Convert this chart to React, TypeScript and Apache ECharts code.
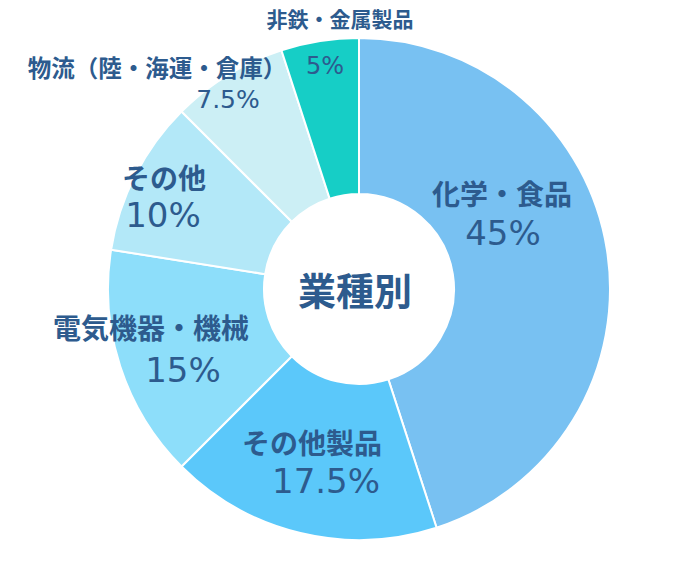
import React, { useEffect, useRef } from "react";
import * as echarts from "echarts";

const categories = [
  "化学・食品",
  "その他製品",
  "電気機器・機械",
  "その他",
  "物流（陸・海運・倉庫）",
  "非鉄・金属製品",
];
const shares = [45, 17.5, 15, 10, 7.5, 5];
const sliceColors = ["#78C1F2", "#5BC8FA", "#8DDEFA", "#B3E8F8", "#CCEFF5", "#16CEC6"];
const centerTitle = "業種別";

// label layout: [x, y, nameSize, pctSize, gap, shift]
const labelLayouts = [
  [502, 213, 28, 34, 40, 1],
  [312, 461, 28, 34, 39, 14],
  [151, 348, 28, 34, 43, 32],
  [164, 196, 28, 34, 38, -1],
  [157, 83, 23.5, 25, 32, 71],
  [340, 42, 21, 24, 48, -15],
];

const TEXT = "#2D5B8E";

export default function App() {
  const ref = useRef<HTMLDivElement>(null);
  useEffect(() => {
    if (!ref.current) return;
    const chart = echarts.init(ref.current, undefined, { renderer: "svg" });
    const data = categories.map((name, i) => {
      const [, , ns, ps, gap, shift] = labelLayouts[i];
      const pad = shift >= 0 ? [0, 0, 0, shift * 2] : [0, -shift * 2, 0, 0];
      return {
        name,
        value: shares[i],
        itemStyle: { color: sliceColors[i] },
        label: {
          rich: {
            n: {
              fontSize: ns,
              fontWeight: "bold",
              lineHeight: gap,
              color: TEXT,
              fontFamily: "'Noto Sans CJK JP', sans-serif",
            },
            p: {
              fontSize: ps,
              lineHeight: gap,
              color: TEXT,
              fontFamily: "'DejaVu Sans', sans-serif",
              padding: pad,
            },
          },
        },
      };
    });
    chart.setOption({
      animation: false,
      backgroundColor: "#ffffff",
      series: [
        {
          type: "pie",
          center: [359, 289],
          radius: [95, 251],
          startAngle: 90,
          clockwise: true,
          avoidLabelOverlap: false,
          itemStyle: { borderColor: "#ffffff", borderWidth: 2 },
          label: {
            show: true,
            position: "inside",
            formatter: "{n|{b}}\n{p|{c}%}",
            align: "center",
          },
          labelLine: { show: false },
          emphasis: { disabled: true },
          labelLayout: (params: any) => {
            const l = labelLayouts[params.dataIndex];
            return { x: l[0], y: l[1], align: "center", verticalAlign: "middle", hideOverlap: false };
          },
          data,
        },
      ],
      graphic: [
        {
          type: "text",
          x: 355,
          y: 288,
          style: {
            text: centerTitle,
            fill: TEXT,
            fontSize: 38,
            fontWeight: "bold",
            fontFamily: "'Noto Sans CJK JP', sans-serif",
            textAlign: "center",
            textVerticalAlign: "middle",
          },
        },
      ],
    });
    return () => chart.dispose();
  }, []);
  return (
    <div
      ref={ref}
      style={{ position: "fixed", left: 0, top: 0, width: 680, height: 580 }}
    />
  );
}
